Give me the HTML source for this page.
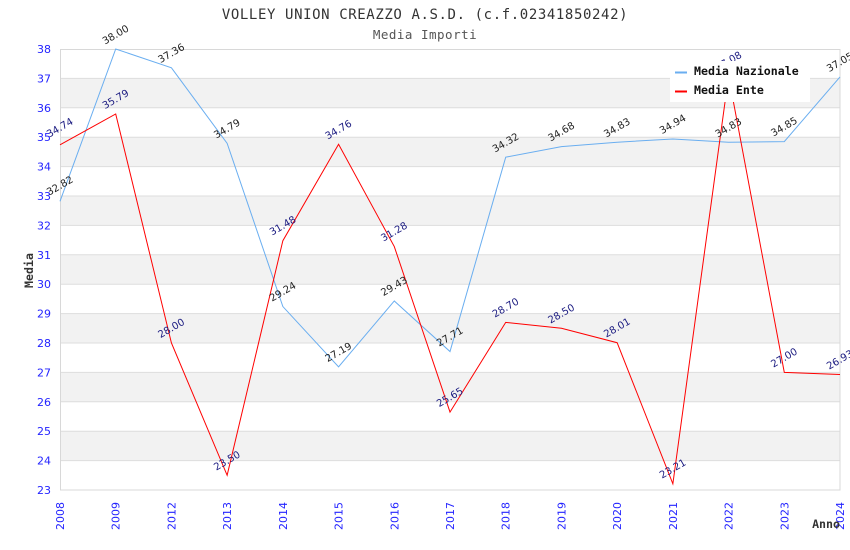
<!DOCTYPE html>
<html><head><meta charset="utf-8"><style>
html,body{margin:0;padding:0;background:#fff;}
svg{display:block;}
.mono{font-family:"DejaVu Sans Mono","Liberation Mono",monospace;}
.sans{font-family:"DejaVu Sans","Liberation Sans",sans-serif;}
</style></head><body>
<svg width="850" height="550" viewBox="0 0 850 550" xmlns="http://www.w3.org/2000/svg">
<rect x="0" y="0" width="850" height="550" fill="#fff"/>
<!-- bands -->
<g fill="#f2f2f2">
<rect x="60" y="78.4" width="780" height="29.4"/>
<rect x="60" y="137.2" width="780" height="29.4"/>
<rect x="60" y="196" width="780" height="29.4"/>
<rect x="60" y="254.8" width="780" height="29.4"/>
<rect x="60" y="313.6" width="780" height="29.4"/>
<rect x="60" y="372.4" width="780" height="29.4"/>
<rect x="60" y="431.2" width="780" height="29.4"/>
</g>
<!-- grid -->
<g stroke="#dddddd" stroke-width="1">
<line x1="60" x2="840" y1="78.4" y2="78.4"/>
<line x1="60" x2="840" y1="107.8" y2="107.8"/>
<line x1="60" x2="840" y1="137.2" y2="137.2"/>
<line x1="60" x2="840" y1="166.6" y2="166.6"/>
<line x1="60" x2="840" y1="196" y2="196"/>
<line x1="60" x2="840" y1="225.4" y2="225.4"/>
<line x1="60" x2="840" y1="254.8" y2="254.8"/>
<line x1="60" x2="840" y1="284.2" y2="284.2"/>
<line x1="60" x2="840" y1="313.6" y2="313.6"/>
<line x1="60" x2="840" y1="343" y2="343"/>
<line x1="60" x2="840" y1="372.4" y2="372.4"/>
<line x1="60" x2="840" y1="401.8" y2="401.8"/>
<line x1="60" x2="840" y1="431.2" y2="431.2"/>
<line x1="60" x2="840" y1="460.6" y2="460.6"/>
</g>
<rect x="60.5" y="49.5" width="779.5" height="440.5" fill="none" stroke="#d8d8d8" stroke-width="1"/>

<!-- y ticks -->
<g class="sans" font-size="11" fill="#2424ff" text-anchor="end">
<text x="51" y="53">38</text>
<text x="51" y="82.4">37</text>
<text x="51" y="111.8">36</text>
<text x="51" y="141.2">35</text>
<text x="51" y="170.6">34</text>
<text x="51" y="200">33</text>
<text x="51" y="229.4">32</text>
<text x="51" y="258.8">31</text>
<text x="51" y="288.2">30</text>
<text x="51" y="317.6">29</text>
<text x="51" y="347">28</text>
<text x="51" y="376.4">27</text>
<text x="51" y="405.8">26</text>
<text x="51" y="435.2">25</text>
<text x="51" y="464.6">24</text>
<text x="51" y="494">23</text>
</g>
<!-- x ticks -->
<g class="sans" font-size="11" fill="#2424ff" text-anchor="end">
<text transform="translate(64,502) rotate(-90)">2008</text>
<text transform="translate(119.71,502) rotate(-90)">2009</text>
<text transform="translate(175.43,502) rotate(-90)">2012</text>
<text transform="translate(231.14,502) rotate(-90)">2013</text>
<text transform="translate(286.86,502) rotate(-90)">2014</text>
<text transform="translate(342.57,502) rotate(-90)">2015</text>
<text transform="translate(398.29,502) rotate(-90)">2016</text>
<text transform="translate(454,502) rotate(-90)">2017</text>
<text transform="translate(509.71,502) rotate(-90)">2018</text>
<text transform="translate(565.43,502) rotate(-90)">2019</text>
<text transform="translate(621.14,502) rotate(-90)">2020</text>
<text transform="translate(676.86,502) rotate(-90)">2021</text>
<text transform="translate(732.57,502) rotate(-90)">2022</text>
<text transform="translate(788.29,502) rotate(-90)">2023</text>
<text transform="translate(844,502) rotate(-90)">2024</text>
</g>

<!-- titles -->
<text class="mono" x="425" y="19" font-size="14" letter-spacing="0.6" fill="#333" text-anchor="middle">VOLLEY UNION CREAZZO A.S.D. (c.f.02341850242)</text>
<text class="mono" x="425" y="39" font-size="12.5" letter-spacing="0.5" fill="#555" text-anchor="middle">Media Importi</text>
<text class="mono" transform="translate(33,270.5) rotate(-90)" font-size="11.6" font-weight="bold" fill="#333" text-anchor="middle">Media</text>
<text class="mono" x="840" y="528" font-size="11.6" font-weight="bold" fill="#333" text-anchor="end">Anno</text>

<!-- series -->
<polyline fill="none" stroke="#6aaef0" stroke-width="1" points="60,201.29 115.71,49 171.43,67.82 227.14,143.37 282.86,306.54 338.57,366.81 394.29,300.96 450,351.53 505.71,157.19 561.43,146.61 617.14,142.2 672.86,138.96 728.57,142.2 784.29,141.61 840,76.93"/>
<polyline fill="none" stroke="#ff0000" stroke-width="1" points="60,144.84 115.71,113.97 171.43,343 227.14,475.3 282.86,240.69 338.57,144.26 394.29,246.57 450,412.09 505.71,322.42 561.43,328.3 617.14,342.71 672.86,483.83 728.57,76.05 784.29,372.4 840,374.46"/>

<!-- labels nazionale -->
<g class="sans" font-size="10" fill="#222" text-anchor="middle" dominant-baseline="middle">
<text transform="translate(60,186) rotate(-30)">32.82</text>
<text transform="translate(115.71,35) rotate(-30)">38.00</text>
<text transform="translate(171.43,53.5) rotate(-30)">37.36</text>
<text transform="translate(227.14,129) rotate(-30)">34.79</text>
<text transform="translate(282.86,292) rotate(-30)">29.24</text>
<text transform="translate(338.57,352.5) rotate(-30)">27.19</text>
<text transform="translate(394.29,286.5) rotate(-30)">29.43</text>
<text transform="translate(450,337) rotate(-30)">27.71</text>
<text transform="translate(505.71,143) rotate(-30)">34.32</text>
<text transform="translate(561.43,132) rotate(-30)">34.68</text>
<text transform="translate(617.14,128) rotate(-30)">34.83</text>
<text transform="translate(672.86,124.5) rotate(-30)">34.94</text>
<text transform="translate(728.57,128) rotate(-30)">34.83</text>
<text transform="translate(784.29,127) rotate(-30)">34.85</text>
<text transform="translate(840,62.5) rotate(-30)">37.05</text>
</g>
<!-- labels ente -->
<g class="sans" font-size="10" fill="#1a1a80" text-anchor="middle" dominant-baseline="middle">
<text transform="translate(60,128) rotate(-30)">34.74</text>
<text transform="translate(115.71,99.5) rotate(-30)">35.79</text>
<text transform="translate(171.43,328.5) rotate(-30)">28.00</text>
<text transform="translate(227.14,461) rotate(-30)">23.50</text>
<text transform="translate(282.86,226) rotate(-30)">31.48</text>
<text transform="translate(338.57,130) rotate(-30)">34.76</text>
<text transform="translate(394.29,232) rotate(-30)">31.28</text>
<text transform="translate(450,397.5) rotate(-30)">25.65</text>
<text transform="translate(505.71,308) rotate(-30)">28.70</text>
<text transform="translate(561.43,314) rotate(-30)">28.50</text>
<text transform="translate(617.14,328) rotate(-30)">28.01</text>
<text transform="translate(672.86,469) rotate(-30)">23.21</text>
<text transform="translate(728.57,61.5) rotate(-30)">37.08</text>
<text transform="translate(784.29,358) rotate(-30)">27.00</text>
<text transform="translate(840,360) rotate(-30)">26.93</text>
</g>

<!-- legend -->
<rect x="670" y="61" width="140" height="41" fill="#fff"/>
<line x1="675" x2="687" y1="72.5" y2="72.5" stroke="#6aaef0" stroke-width="2"/>
<line x1="675" x2="687" y1="91.5" y2="91.5" stroke="#ff0000" stroke-width="2"/>
<text class="mono" x="694" y="75" font-size="11.6" font-weight="bold" fill="#111">Media Nazionale</text>
<text class="mono" x="694" y="94" font-size="11.6" font-weight="bold" fill="#111">Media Ente</text>
</svg>
</body></html>
